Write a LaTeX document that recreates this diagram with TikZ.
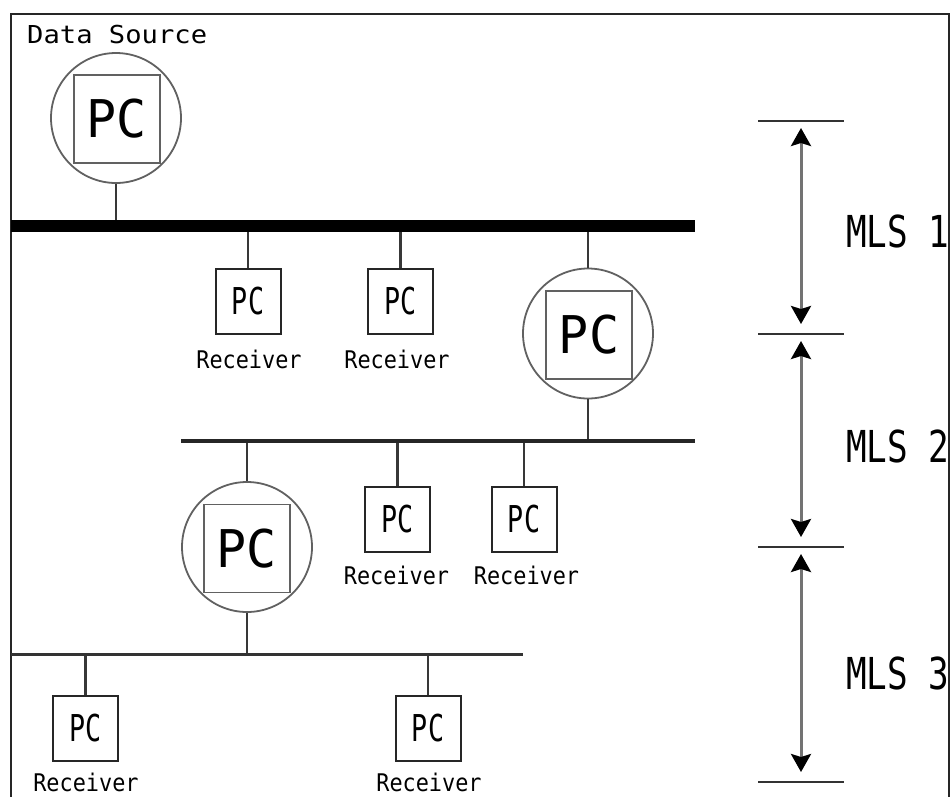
\documentclass[tikz,border=0pt]{standalone}
\usepackage{fontspec}
\newfontfamily\gothic{DejaVu Sans Mono}
\usetikzlibrary{arrows.meta}
% condensed monospaced label: size (pt), horizontal factor, text
\newcommand\gtxt[3]{\scalebox{#2}[1]{\fontsize{#1pt}{#1pt}\selectfont\gothic #3}}
\begin{document}
\begin{tikzpicture}[x=1pt,y=-1pt,
  wire/.style={draw=black!78, line width=2.2pt},
  bus/.style={draw=black, line width=#1},
  hub/.style={circle, draw=black!62, line width=1.8pt, minimum size=130pt, inner sep=0pt},
  hubbox/.style={draw=black!62, line width=1.8pt, minimum width=86pt, minimum height=88pt, inner sep=0pt},
  pcbox/.style={draw=black!85, line width=2pt, minimum width=65pt, minimum height=65pt, inner sep=0pt},
  lab/.style={inner sep=0pt, anchor=base},
  tick/.style={draw=black!80, line width=2pt},
  span/.style={draw=black!55, line width=3pt, shorten <=7pt, shorten >=10pt,
    {Stealth[length=18pt,width=20pt,inset=3pt,color=black]}-{Stealth[length=18pt,width=20pt,inset=3pt,color=black]}},
  mls/.style={inner sep=0pt, anchor=base west}]
\useasboundingbox (0,0) rectangle (951,796);
\fill[white] (0,0) rectangle (951,796);

% outer frame
\draw[line width=2pt, black!85] (11,800) -- (11,14) -- (949,14) -- (949,800);

\node[lab, anchor=base west] (dslab) at (27,43) {\gtxt{24.7}{1.1}{Data Source}};

% bus coordinates
\coordinate (b1w) at (11,226);   \coordinate (b1e) at (695,226);
\coordinate (b2w) at (181,441);  \coordinate (b2e) at (695,441);
\coordinate (b3w) at (11,654);   \coordinate (b3e) at (523,654);

% data source hub
\node[hub] (src) at (116,118) {};
\node[hubbox] (srcbox) at (117,119) {\gtxt{52}{0.96}{PC}};

% level 1 hub
\node[hub] (h2) at (588,333.5) {};
\node[hubbox] (h2box) at (589,335) {\gtxt{52}{0.96}{PC}};

% level 2 hub
\node[hub] (h3) at (247,547) {};
\node[hubbox] (h3box) at (247,548.5) {\gtxt{52}{0.96}{PC}};

% receivers
\node[pcbox] (r1) at (248,301.5) {\gtxt{37}{0.72}{PC}};
\node[pcbox] (r2) at (400.5,301.5) {\gtxt{37}{0.72}{PC}};
\node[pcbox] (r3) at (397.5,519.5) {\gtxt{37}{0.72}{PC}};
\node[pcbox] (r4) at (524,519.5) {\gtxt{37}{0.72}{PC}};
\node[pcbox] (r5) at (85.5,728.5) {\gtxt{37}{0.72}{PC}};
\node[pcbox] (r6) at (428,728.5) {\gtxt{37}{0.72}{PC}};

\node[lab] (r1l) at (249,368) {\gtxt{24.3}{0.9}{Receiver}};
\node[lab] (r2l) at (397,368) {\gtxt{24.3}{0.9}{Receiver}};
\node[lab] (r3l) at (396.5,584) {\gtxt{24.3}{0.9}{Receiver}};
\node[lab] (r4l) at (526.5,584) {\gtxt{24.3}{0.9}{Receiver}};
\node[lab] (r5l) at (86,791) {\gtxt{24.3}{0.9}{Receiver}};
\node[lab] (r6l) at (429,791) {\gtxt{24.3}{0.9}{Receiver}};

% connectors to the buses
\draw[wire] (src.south) -- (src.south |- b1w);
\draw[wire] (r1.north) -- (r1.north |- b1w);
\draw[wire] (r2.north) -- (r2.north |- b1w);
\draw[wire] (h2.north) -- (h2.north |- b1w);
\draw[wire] (h2.south) -- (h2.south |- b2w);
\draw[wire] (h3.north) -- (h3.north |- b2w);
\draw[wire] (r3.north) -- (r3.north |- b2w);
\draw[wire] (r4.north) -- (r4.north |- b2w);
\draw[wire] (h3.south) -- (h3.south |- b3w);
\draw[wire] (r5.north) -- (r5.north |- b3w);
\draw[wire] (r6.north) -- (r6.north |- b3w);

% buses
\draw[bus=12pt] (b1w) -- (b1e);
\draw[bus=4.5pt, black!85] (b2w) -- (b2e);
\draw[bus=3pt, black!80] (b3w) -- (b3e);

% level scale
\coordinate (t0) at (801,121);
\coordinate (t1) at (801,334);
\coordinate (t2) at (801,547);
\coordinate (t3) at (801,782);
\foreach \t in {t0,t1,t2,t3} \draw[tick] ([xshift=-43pt]\t) -- ([xshift=43pt]\t);
\draw[span] (t0) -- (t1);
\draw[span] (t1) -- (t2);
\draw[span] (t2) -- (t3);

\node[mls] (m1) at (846,247) {\gtxt{44}{0.78}{MLS 1}};
\node[mls] (m2) at (846,462) {\gtxt{44}{0.78}{MLS 2}};
\node[mls] (m3) at (846,689) {\gtxt{44}{0.78}{MLS 3}};
\end{tikzpicture}
\end{document}
